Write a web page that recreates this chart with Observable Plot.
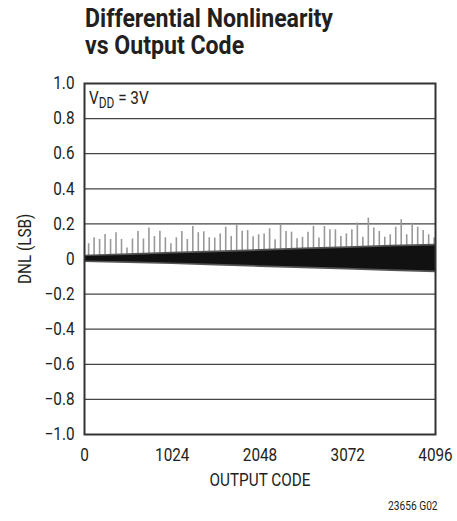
<!DOCTYPE html>
<html><head><meta charset="utf-8">
<script src="https://cdn.jsdelivr.net/npm/d3@7"></script>
<script src="https://cdn.jsdelivr.net/npm/@observablehq/plot@0.6"></script>
<style>
body{margin:0;background:#fff;font-family:Roboto,"Liberation Sans",sans-serif;color:#231f20;}
#wrap{position:relative;width:457px;height:521px;overflow:hidden;}
#title{position:absolute;left:85px;top:5px;font-weight:bold;font-size:26px;line-height:27px;white-space:nowrap;transform-origin:0 0;}
#title span{display:inline-block;}
#chart{position:absolute;left:0;top:70px;}
#caption{position:absolute;left:388px;top:499px;font-size:12px;transform:scaleX(0.85);transform-origin:0 0;}
</style></head><body>
<div id="wrap">
<div id="title"><span id="t1">Differential Nonlinearity</span><br><span id="t2">vs Output Code</span></div>
<div id="chart"></div>
<div id="caption">23656 G02</div>
</div>
<script>
const xTicks = [0, 1024, 2048, 3072, 4096];
const yTicks = [-1, -0.8, -0.6, -0.4, -0.2, 0, 0.2, 0.4, 0.6, 0.8, 1];
const gridValues = [-0.8, -0.6, -0.4, -0.2, 0, 0.2, 0.4, 0.6, 0.8];

// envelope of the dense DNL band
const bandCodes = [0, 512, 1024, 1536, 2048, 2560, 3072, 3584, 4096];
const bandUpper = [0.014, 0.020, 0.028, 0.036, 0.044, 0.052, 0.060, 0.068, 0.074];
const bandLower = [-0.012, -0.016, -0.023, -0.030, -0.038, -0.046, -0.053, -0.061, -0.068];
// fuzzy outer edge of the band
const fringeUpper = [0.022, 0.030, 0.038, 0.046, 0.054, 0.062, 0.070, 0.078, 0.084];
const fringeLower = [-0.020, -0.025, -0.032, -0.040, -0.048, -0.056, -0.063, -0.071, -0.078];

// periodic DNL spikes
const spikeCodes = [48,112,176,240,304,368,432,496,560,624,688,752,816,880,944,1008,
  1072,1136,1200,1264,1328,1392,1456,1520,1584,1648,1712,1776,1840,1904,1968,2032,
  2096,2160,2224,2288,2352,2416,2480,2544,2608,2672,2736,2800,2864,2928,2992,3056,
  3120,3184,3248,3312,3376,3440,3504,3568,3632,3696,3760,3824,3888,3952,4016,4080];
const spikeValues = [0.087,0.121,0.111,0.140,0.111,0.149,0.111,0.062,0.114,0.157,0.114,0.176,0.128,0.158,0.121,0.087,
  0.121,0.157,0.111,0.185,0.150,0.155,0.121,0.119,0.143,0.181,0.128,0.195,0.158,0.162,0.127,0.138,
  0.143,0.172,0.109,0.195,0.157,0.153,0.115,0.124,0.153,0.186,0.119,0.185,0.166,0.166,0.128,0.143,
  0.166,0.205,0.124,0.233,0.176,0.157,0.124,0.138,0.181,0.224,0.138,0.204,0.181,0.162,0.138,0.120];

const band = bandCodes.map((c, i) => ({code: c, hi: bandUpper[i], lo: bandLower[i], fhi: fringeUpper[i], flo: fringeLower[i]}));
const spikes = spikeCodes.map((c, i) => ({code: c, v: spikeValues[i]}));

const fmtY = d => d === 0 ? "0" : (d < 0 ? "\u2212" : "") + Math.abs(d).toFixed(1);
const M = {top: 13, bottom: 87, left: 84, right: 22};
const FONT = 'Roboto,"Liberation Sans",sans-serif';

const plot = Plot.plot({
  width: 457, height: 451,
  marginTop: M.top, marginBottom: M.bottom, marginLeft: M.left, marginRight: M.right,
  style: {fontFamily: FONT, fontSize: "18px", color: "#231f20", background: "white", overflow: "visible"},
  x: {domain: [0, 4096], ticks: xTicks, tickSize: 0, tickPadding: 14, tickFormat: d => String(d),
      label: "OUTPUT CODE", labelAnchor: "center", labelOffset: 51, labelArrow: "none"},
  y: {domain: [-1, 1], ticks: yTicks, tickSize: 0, tickPadding: 10, tickFormat: fmtY,
      label: "DNL (LSB)", labelAnchor: "center", labelOffset: 66, labelArrow: "none"},
  marks: [
    Plot.ruleY(gridValues, {stroke: "#444", strokeWidth: 1.3}),
    Plot.ruleX(spikes, {x: "code", y1: 0, y2: "v", stroke: "#999", strokeWidth: 1.6}),
    Plot.areaY(band, {x: "code", y1: "flo", y2: "fhi", fill: "#555"}),
    Plot.areaY(band, {x: "code", y1: "lo", y2: "hi", fill: "#111"}),
    Plot.frame({stroke: "#333", strokeWidth: 2})
  ]
});
document.getElementById("chart").appendChild(plot);

// condense axis texts (reference uses a condensed face)
d3.select(plot).selectAll('g[aria-label*="axis"] text').each(function() {
  const tr = this.getAttribute("transform") || "";
  this.setAttribute("transform", tr + " scale(0.85,1)");
});
// y-axis title sits a little above the centre in the reference
d3.select(plot).selectAll('g[aria-label="y-axis label"] text').each(function() {
  const tr = this.getAttribute("transform") || "";
  this.setAttribute("transform", tr + " translate(12,0)");
});

// V_DD annotation with subscript
const sx = plot.scale("x"), sy = plot.scale("y");
const t = d3.select(plot).append("text")
  .attr("text-anchor", "start")
  .attr("transform", `translate(${sx.apply(0) + 5},${sy.apply(1) + 21}) scale(0.85,1)`)
  .attr("fill", "#231f20").style("font-size", "18px").style("font-family", FONT);
t.append("tspan").text("V");
t.append("tspan").attr("dy", 4).style("font-size", "14px").text("DD");
t.append("tspan").attr("dy", -4).text(" = 3V");

// fit title width to reference
const t1 = document.getElementById("t1");
const w = t1.getBoundingClientRect().width;
document.getElementById("title").style.transform = `scaleX(${248 / w})`;
</script>
</body></html>
